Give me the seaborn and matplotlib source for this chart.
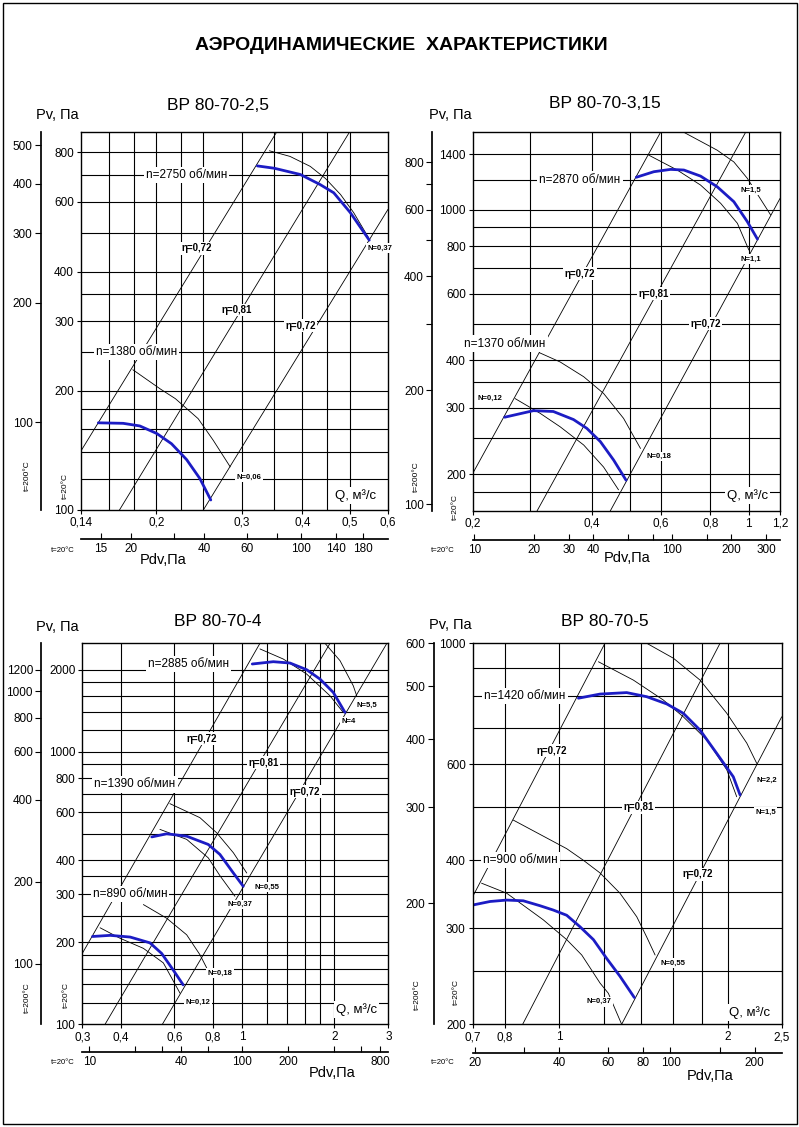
import matplotlib
matplotlib.use("Agg")
import matplotlib.pyplot as plt
from matplotlib.patches import Rectangle
from matplotlib.ticker import NullLocator, NullFormatter, FixedLocator
import seaborn as sns

sns.set_theme(style="white")
plt.rcParams["font.family"] = ["Liberation Sans", "DejaVu Sans"]

W, H = 799, 1127
T200 = 0.6          # Pv(200°C) / Pv(20°C)

# ---------------- ВР 80-70-2,5 ----------------
q25_lim, p25_lim = (0.14, 0.6), (100, 900)
q25_grid = [0.16, 0.18, 0.2, 0.225, 0.25, 0.3, 0.35, 0.4, 0.45, 0.5]
p25_grid = [120, 140, 160, 180, 200, 250, 300, 350, 400, 500, 600, 700, 800]
q25_ticks = [0.14, 0.2, 0.3, 0.4, 0.5, 0.6]
q25_labels = ["0,14", "0,2", "0,3", "0,4", "0,5", "0,6"]
p25_ticks = [100, 200, 300, 400, 600, 800]
t25_ticks, t25_minor = [100, 200, 300, 400, 500], []
pdv25_k = 635
pdv25_ticks, pdv25_minor = [15, 20, 40, 60, 100, 140, 180], [30, 80]
q25_b2750 = [0.323, 0.350, 0.396, 0.435, 0.464, 0.502, 0.549]
p25_b2750 = [739, 729, 703, 663, 632, 563, 480]
q25_t2750 = [0.342, 0.377, 0.415, 0.446, 0.479, 0.510, 0.547]
p25_t2750 = [807, 781, 737, 687, 626, 563, 487]
q25_b1380 = [0.152, 0.171, 0.185, 0.2005, 0.215, 0.231, 0.246, 0.259]
p25_b1380 = [166, 165.5, 163, 156, 147, 134, 120, 106]
q25_t1380 = [0.179, 0.204, 0.219, 0.244, 0.262, 0.284]
p25_t1380 = [226, 202, 191, 170, 150, 128.5]
q25_eta = [[0.14, 0.354], [0.168, 0.5], [0.25, 0.6]]
p25_eta = [[141, 900], [100, 900], [100, 574]]

# ---------------- ВР 80-70-3,15 ----------------
q315_lim, p315_lim = (0.2, 1.2), (160, 1600)
q315_grid = [0.28, 0.4, 0.5, 0.6, 0.8, 1.0]
p315_grid = [180, 200, 250, 300, 350, 400, 500, 600, 700, 800, 900, 1000, 1200, 1400]
q315_ticks = [0.2, 0.4, 0.6, 0.8, 1.0, 1.2]
q315_labels = ["0,2", "0,4", "0,6", "0,8", "1", "1,2"]
p315_ticks = [200, 300, 400, 600, 800, 1000, 1400]
t315_ticks, t315_minor = [100, 200, 400, 600, 800], [300, 500, 700]
pdv315_k = 245
pdv315_ticks, pdv315_minor = [10, 20, 30, 40, 100, 200, 300], [60, 80, 150]
q315_b2870 = [0.519, 0.575, 0.634, 0.685, 0.755, 0.832, 0.917, 0.992, 1.052]
p315_b2870 = [1217, 1259, 1277, 1272, 1226, 1149, 1049, 929, 836]
q315_t11 = [0.558, 0.659, 0.755, 0.849, 0.936, 1.001]
p315_t11 = [1393, 1272, 1161, 1039, 920, 782]
q315_t15 = [0.685, 0.832, 0.917, 0.992, 1.137]
p315_t15 = [1600, 1435, 1336, 1209, 967]
q315_b1370 = [0.241, 0.285, 0.320, 0.360, 0.389, 0.421, 0.455, 0.489]
p315_b1370 = [283, 294.5, 293, 279, 264.5, 244, 218, 193]
q315_t012 = [0.256, 0.296, 0.333, 0.382, 0.429, 0.468]
p315_t012 = [317, 290, 267, 239, 209, 182]
q315_t018 = [0.295, 0.333, 0.382, 0.429, 0.482, 0.532]
p315_t018 = [419, 396, 362, 327, 281, 234]
q315_eta = [[0.2, 0.598], [0.291, 0.982], [0.446, 1.2]]
p315_eta = [[201, 1600], [160, 1600], [160, 1070]]

# ---------------- ВР 80-70-4 ----------------
q4_lim, p4_lim = (0.3, 3.0), (100, 2500)
q4_grid = [0.4, 0.6, 0.8, 1, 1.2, 1.4, 1.6, 1.8, 2]
p4_grid = [120, 140, 160, 180, 200, 250, 300, 350, 400, 500, 600, 700, 800, 900,
           1000, 1200, 1400, 1600, 1800, 2000]
q4_ticks = [0.3, 0.4, 0.6, 0.8, 1, 2, 3]
q4_labels = ["0,3", "0,4", "0,6", "0,8", "1", "2", "3"]
p4_ticks = [100, 200, 300, 400, 600, 800, 1000, 2000]
t4_ticks, t4_minor = [100, 200, 400, 600, 800, 1000, 1200], []
pdv4_k = 100
pdv4_ticks, pdv4_minor = [10, 40, 100, 200, 800], [20, 30, 60, 400, 600]
q4_b2885 = [1.078, 1.263, 1.432, 1.623, 1.794, 1.983, 2.166]
p4_b2885 = [2099, 2140, 2116, 2000, 1848, 1651, 1394]
q4_t4 = [1.142, 1.361, 1.623, 1.934, 2.138]
p4_t4 = [2384, 2189, 1928, 1605, 1394]
q4_t55 = [1.863, 2.086, 2.305, 2.365]
p4_t55 = [2500, 2159, 1746, 1605]
q4_b1390 = [0.506, 0.566, 0.658, 0.774, 0.845, 0.935, 1.007]
p4_b1390 = [487, 500, 490, 457, 420, 359, 321]
q4_t037 = [0.538, 0.658, 0.774, 0.845, 0.946]
p4_t037 = [519, 477, 408, 351, 295]
q4_t055 = [0.580, 0.727, 0.825, 0.935, 1.034]
p4_t055 = [645, 573, 504, 426, 359]
q4_b890 = [0.324, 0.370, 0.430, 0.499, 0.545, 0.595, 0.641]
p4_b890 = [210, 212, 209, 199, 182, 158, 139.5]
q4_t012 = [0.343, 0.398, 0.475, 0.552, 0.626]
p4_t012 = [226, 207, 190, 168, 130]
q4_t018 = [0.475, 0.566, 0.658, 0.727, 0.765]
p4_t018 = [275, 245, 213, 180, 161]
q4_eta = [[0.3, 1.142], [0.356, 1.935], [0.548, 2.96]]
p4_eta = [[182, 2500], [100, 2500], [100, 2486]]

# ---------------- ВР 80-70-5 ----------------
q5_lim, p5_lim = (0.7, 2.5), (200, 1000)
q5_grid = [0.8, 1, 1.2, 1.4, 1.6, 1.8, 2]
p5_grid = [250, 300, 350, 400, 500, 600, 700, 800, 900]
q5_ticks = [0.7, 0.8, 1, 2, 2.5]
q5_labels = ["0,7", "0,8", "1", "2", "2,5"]
p5_ticks = [200, 300, 400, 600, 1000]
t5_ticks, t5_minor = [200, 300, 400, 500, 600], []
pdv5_k = 40
pdv5_ticks, pdv5_minor = [20, 40, 60, 80, 100, 200], [30, 150]
q5_b1420 = [1.082, 1.183, 1.320, 1.434, 1.557, 1.667, 1.786, 1.913, 2.048, 2.106]
p5_b1420 = [793, 807, 812, 798, 774, 744, 693, 628, 569, 527]
q5_t15 = [1.175, 1.357, 1.535, 1.667, 1.836, 1.994, 2.077]
p5_t15 = [925, 856, 787, 733, 665, 586, 523]
q5_t22 = [1.434, 1.600, 1.786, 1.994, 2.165, 2.256]
p5_t22 = [1000, 939, 856, 744, 656, 602]
q5_b900 = [0.700, 0.752, 0.805, 0.862, 0.924, 0.976, 1.031, 1.089, 1.151, 1.216, 1.284, 1.362]
p5_b900 = [331, 336, 338, 337, 330, 324, 317, 302, 286, 264, 245, 224]
q5_t037 = [0.726, 0.805, 0.936, 1.031, 1.097, 1.183, 1.224, 1.293]
p5_t037 = [363, 348, 311, 286, 268, 238, 228, 200]
q5_t055 = [0.827, 1.031, 1.104, 1.183, 1.284, 1.376, 1.434, 1.484]
p5_t055 = [474, 420, 400, 379, 348, 315, 289, 268]
q5_eta = [[0.7, 1.207], [0.860, 1.939], [1.293, 2.5]]
p5_eta = [[343, 1000], [200, 1000], [200, 733]]

BLUE = "#1c1cc4"

panels = [
    dict(title="ВР 80-70-2,5", box=(81, 132, 388, 510), tx=41, dy=539,
         qlim=q25_lim, plim=p25_lim, qgrid=q25_grid, pgrid=p25_grid,
         qticks=q25_ticks, qlabels=q25_labels, pticks=p25_ticks,
         tticks=t25_ticks, tminor=t25_minor, k=pdv25_k,
         dticks=pdv25_ticks, dminor=pdv25_minor,
         eta=(q25_eta, p25_eta),
         thin=[(q25_t2750, p25_t2750), (q25_t1380, p25_t1380)],
         blue=[(q25_b2750, p25_b2750), (q25_b1380, p25_b1380)],
         notes=[(0.231, 700, "n=2750 об/мин", "n"), (0.182, 250, "n=1380 об/мин", "n"),
                (0.2424, 458, "η=0,72", "eta"), (0.293, 320, "η=0,81", "eta"),
                (0.396, 292, "η=0,72", "eta"), (0.578, 458, "N=0,37", "N"),
                (0.310, 121, "N=0,06", "N"), (0.514, 109, "Q, м³/с", "Q")],
         txt=dict(title=(218, 106), pv=(57, 115), t200=(27, 476), t20=(65, 486),
                  t20b=(63, 551), pdv=(163, 560))),
    dict(title="ВР 80-70-3,15", box=(472.7, 132.3, 780, 511), tx=432.3, dy=540,
         qlim=q315_lim, plim=p315_lim, qgrid=q315_grid, pgrid=p315_grid,
         qticks=q315_ticks, qlabels=q315_labels, pticks=p315_ticks,
         tticks=t315_ticks, tminor=t315_minor, k=pdv315_k,
         dticks=pdv315_ticks, dminor=pdv315_minor,
         eta=(q315_eta, p315_eta),
         thin=[(q315_t11, p315_t11), (q315_t15, p315_t15),
               (q315_t012, p315_t012), (q315_t018, p315_t018)],
         blue=[(q315_b2870, p315_b2870), (q315_b1370, p315_b1370)],
         notes=[(0.374, 1200, "n=2870 об/мин", "n"), (0.2416, 443, "n=1370 об/мин", "n"),
                (1.011, 1127, "N=1,5", "N"), (1.011, 740, "N=1,1", "N"),
                (0.374, 678, "η=0,72", "eta"), (0.575, 600, "η=0,81", "eta"),
                (0.777, 500, "η=0,72", "eta"), (0.2213, 317, "N=0,12", "N"),
                (0.592, 223, "N=0,18", "N"), (0.992, 176, "Q, м³/с", "Q")],
         txt=dict(title=(605, 104), pv=(450, 115), t200=(416, 477), t20=(455, 507),
                  t20b=(443, 550), pdv=(627, 558))),
    dict(title="ВР 80-70-4", box=(82.3, 643.3, 388.3, 1024.3), tx=41.3, dy=1052.3,
         qlim=q4_lim, plim=p4_lim, qgrid=q4_grid, pgrid=p4_grid,
         qticks=q4_ticks, qlabels=q4_labels, pticks=p4_ticks,
         tticks=t4_ticks, tminor=t4_minor, k=pdv4_k,
         dticks=pdv4_ticks, dminor=pdv4_minor,
         eta=(q4_eta, p4_eta),
         thin=[(q4_t4, p4_t4), (q4_t55, p4_t55), (q4_t037, p4_t037),
               (q4_t055, p4_t055), (q4_t012, p4_t012), (q4_t018, p4_t018)],
         blue=[(q4_b2885, p4_b2885), (q4_b1390, p4_b1390), (q4_b890, p4_b890)],
         notes=[(0.666, 2100, "n=2885 об/мин", "n"), (0.446, 759, "n=1390 об/мин", "n"),
                (0.4295, 300, "n=890 об/мин", "n"),
                (2.55, 1483, "N=5,5", "N"), (2.22, 1288, "N=4", "N"),
                (0.737, 1118, "η=0,72", "eta"), (1.171, 912, "η=0,81", "eta"),
                (1.603, 714, "η=0,72", "eta"), (1.2, 319, "N=0,55", "N"),
                (0.983, 275, "N=0,37", "N"), (0.845, 154, "N=0,18", "N"),
                (0.718, 120, "N=0,12", "N"), (2.365, 113, "Q, м³/с", "Q")],
         txt=dict(title=(218, 622), pv=(57, 627), t200=(27, 998), t20=(66, 995),
                  t20b=(63, 1063), pdv=(332, 1073))),
    dict(title="ВР 80-70-5", box=(472.7, 643.3, 781.7, 1024.3), tx=434, dy=1053.3,
         qlim=q5_lim, plim=p5_lim, qgrid=q5_grid, pgrid=p5_grid,
         qticks=q5_ticks, qlabels=q5_labels, pticks=p5_ticks,
         tticks=t5_ticks, tminor=t5_minor, k=pdv5_k,
         dticks=pdv5_ticks, dminor=pdv5_minor,
         eta=(q5_eta, p5_eta),
         thin=[(q5_t15, p5_t15), (q5_t22, p5_t22), (q5_t037, p5_t037), (q5_t055, p5_t055)],
         blue=[(q5_b1420, p5_b1420), (q5_b900, p5_b900)],
         notes=[(0.868, 800, "n=1420 об/мин", "n"), (0.851, 400, "n=900 об/мин", "n"),
                (0.969, 635, "η=0,72", "eta"), (2.35, 561, "N=2,2", "N"),
                (2.34, 490, "N=1,5", "N"), (1.385, 500, "η=0,81", "eta"),
                (1.773, 377, "η=0,72", "eta"), (1.6, 259, "N=0,55", "N"),
                (1.179, 220, "N=0,37", "N"), (2.19, 210, "Q, м³/с", "Q")],
         txt=dict(title=(605, 622), pv=(450, 625), t200=(417, 995), t20=(456, 992),
                  t20b=(443, 1063), pdv=(710, 1076))),
]

fig = plt.figure(figsize=(W / 100, H / 100), dpi=100)
fig.patch.set_facecolor("white")


def rect(x0, y0, x1, y1):
    return [x0 / W, 1 - y1 / H, (x1 - x0) / W, (y1 - y0) / H]


def ftext(xy, s, **kw):
    fig.text(xy[0] / W, 1 - xy[1] / H, s, ha="center", va="center", color="black", **kw)


note_style = {
    "n": dict(fontsize=8.5, bbox=dict(facecolor="white", edgecolor="none", pad=1.5)),
    "N": dict(fontsize=5.5, fontweight="bold", bbox=dict(facecolor="white", edgecolor="none", pad=1)),
    "eta": dict(fontsize=7, fontweight="bold", bbox=dict(facecolor="white", edgecolor="none", pad=1)),
    "Q": dict(fontsize=9.5, bbox=dict(facecolor="white", edgecolor="none", pad=1.5)),
}

for pn in panels:
    x0, y0, x1, y1 = pn["box"]
    ax = fig.add_axes(rect(x0, y0, x1, y1))
    ax.set_xscale("log")
    ax.set_yscale("log")
    ax.set_facecolor("white")
    for q in pn["qgrid"]:
        ax.axvline(q, color="black", lw=0.8, zorder=1)
    for p in pn["pgrid"]:
        ax.axhline(p, color="black", lw=0.8, zorder=1)
    for qs, ps in zip(*pn["eta"]):
        sns.lineplot(x=qs, y=ps, ax=ax, color="black", lw=0.6, sort=False, estimator=None)
    for qs, ps in pn["thin"]:
        sns.lineplot(x=qs, y=ps, ax=ax, color="black", lw=0.6, sort=False, estimator=None)
    for qs, ps in pn["blue"]:
        sns.lineplot(x=qs, y=ps, ax=ax, color=BLUE, lw=2, sort=False, estimator=None)
    ax.set_xlim(pn["qlim"])
    ax.set_ylim(pn["plim"])
    ax.set_xticks(pn["qticks"], pn["qlabels"])
    ax.set_yticks(pn["pticks"], [str(v) for v in pn["pticks"]])
    ax.xaxis.set_minor_locator(NullLocator())
    ax.yaxis.set_minor_locator(NullLocator())
    ax.tick_params(direction="out", length=3, width=0.8, labelsize=8.5, pad=2,
                   colors="black", bottom=True, left=True)
    ax.set_xlabel("")
    ax.set_ylabel("")
    for s in ax.spines.values():
        s.set_color("black")
        s.set_linewidth(1)
    for q, p, s, kind in pn["notes"]:
        ax.text(q, p, s, ha="center", va="center", color="black", zorder=5, **note_style[kind])

    # outer pressure scale for t = 200 °C
    at = fig.add_axes(rect(pn["tx"], y0, pn["tx"] + 1, y1))
    at.set_yscale("log")
    at.set_ylim(pn["plim"][0] * T200, pn["plim"][1] * T200)
    at.set_yticks(pn["tticks"], [str(v) for v in pn["tticks"]])
    at.yaxis.set_minor_locator(FixedLocator(pn["tminor"]))
    at.yaxis.set_minor_formatter(NullFormatter())
    at.set_xticks([])
    at.patch.set_visible(False)
    for side in ["top", "right", "bottom"]:
        at.spines[side].set_visible(False)
    at.spines["left"].set_color("black")
    at.tick_params(which="both", direction="out", length=4, width=0.8, labelsize=8.5,
                   pad=2, colors="black", left=True)

    # dynamic pressure scale
    k = pn["k"]
    ad = fig.add_axes(rect(x0, pn["dy"] - 1, x1, pn["dy"]))
    ad.set_xscale("log")
    ad.set_xlim(k * pn["qlim"][0] ** 2, k * pn["qlim"][1] ** 2)
    ad.set_xticks(pn["dticks"], [str(v) for v in pn["dticks"]])
    ad.xaxis.set_minor_locator(FixedLocator(pn["dminor"]))
    ad.xaxis.set_minor_formatter(NullFormatter())
    ad.set_yticks([])
    ad.patch.set_visible(False)
    for side in ["top", "right", "left"]:
        ad.spines[side].set_visible(False)
    ad.spines["bottom"].set_color("black")
    ad.tick_params(which="both", direction="in", length=4, width=0.8, labelsize=8.5,
                   pad=3, colors="black", bottom=True)

    # texts around the panel
    t = pn["txt"]
    ftext(t["title"], pn["title"], fontsize=12.5)
    ftext(t["pv"], "Pv, Па", fontsize=10.5)
    ftext(t["t200"], "t=200°C", rotation=90, fontsize=6)
    ftext(t["t20"], "t=20°C", rotation=90, fontsize=6)
    ftext(t["t20b"], "t=20°C", fontsize=5.5)
    ftext(t["pdv"], "Pdv,Па", fontsize=10.5)

ftext((401, 45), "АЭРОДИНАМИЧЕСКИЕ  ХАРАКТЕРИСТИКИ", fontsize=14, fontweight="bold")
fig.add_artist(Rectangle((3 / W, 3 / H), 794 / W, 1121 / H, transform=fig.transFigure,
                         fill=False, edgecolor="black", lw=1))

fig.savefig("out.png", dpi=100, facecolor="white")
